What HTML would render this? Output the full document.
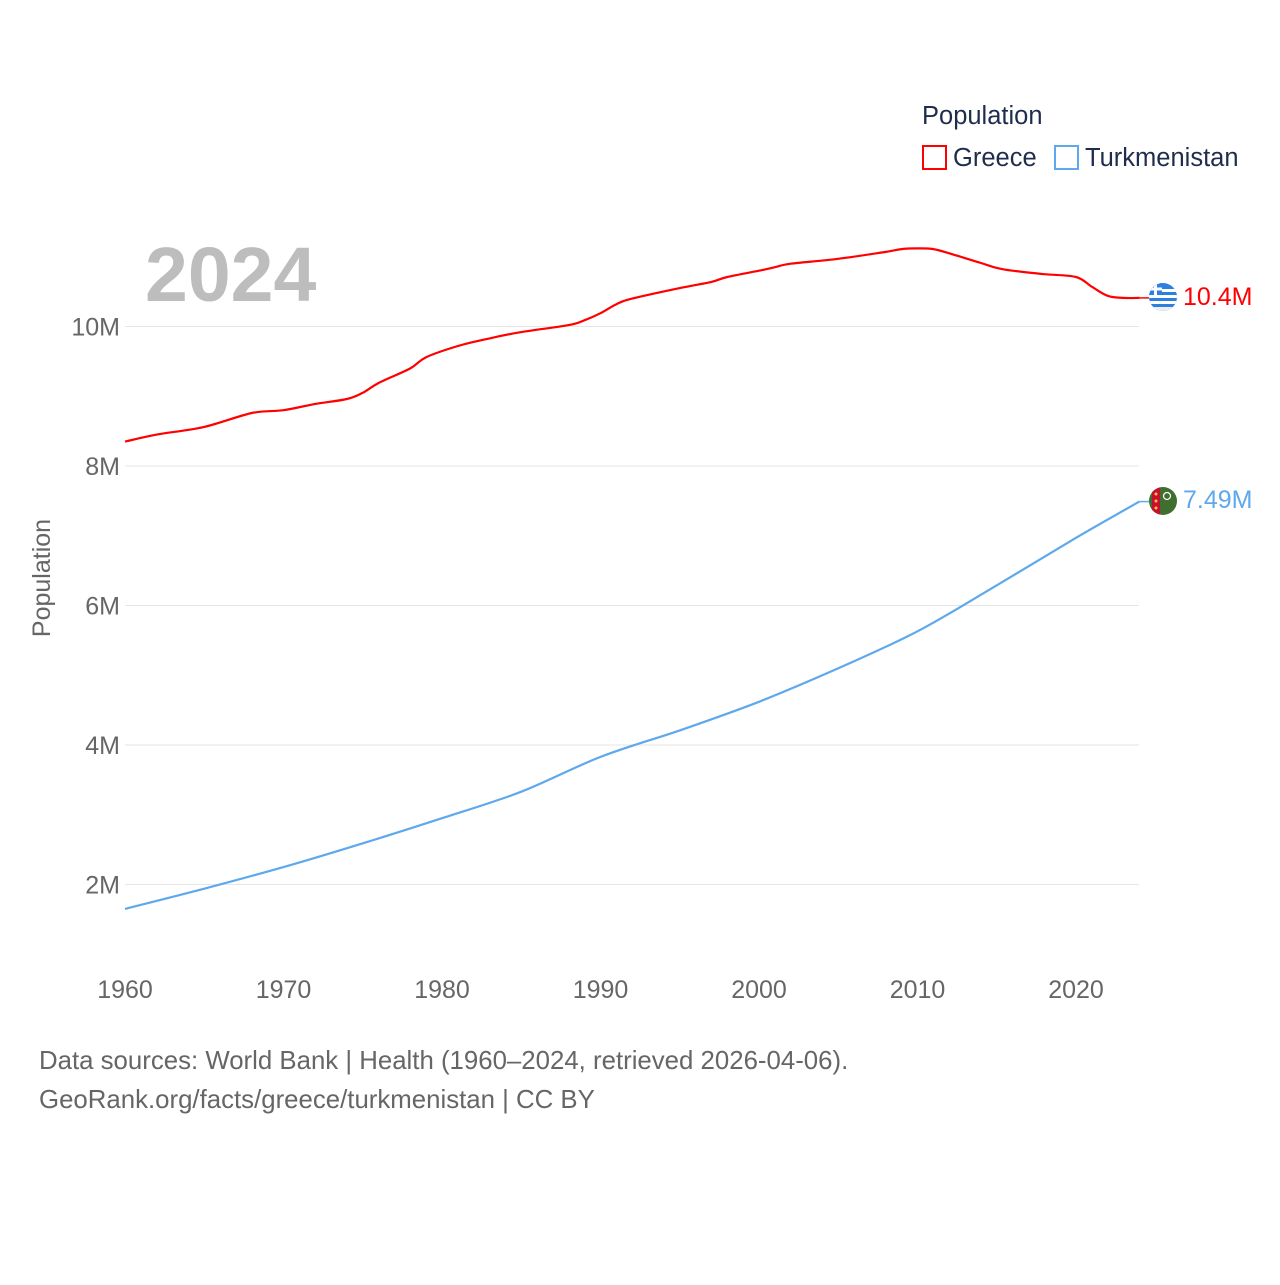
<!DOCTYPE html>
<html><head><meta charset="utf-8"><style>
body{margin:0;background:#fff;font-family:"Liberation Sans",sans-serif}
svg text{font-family:"Liberation Sans",sans-serif}
</style></head><body>
<svg id="chart" width="1280" height="1280" viewBox="0 0 1280 1280" xmlns="http://www.w3.org/2000/svg">
<rect width="1280" height="1280" fill="#fff"/>
<g id="grid"></g>
<g id="yticks"></g>
<g id="xticks"></g>
<text x="145" y="301" font-size="77" font-weight="bold" fill="#bdbdbd">2024</text>
<text transform="translate(50,578) rotate(-90)" text-anchor="middle" font-size="25" fill="#666">Population</text>
<g id="series"></g>
<g>
<text x="922" y="124" font-size="25.5" fill="#1f2d4d">Population</text>
<g><rect x="923" y="146" width="23" height="23" fill="none" stroke="#ff0000" stroke-width="2"/><text x="953" y="166" font-size="25.5" fill="#1f2d4d">Greece</text></g>
<g><rect x="1055" y="146" width="23" height="23" fill="none" stroke="#5ea8ec" stroke-width="2"/><text x="1085" y="166" font-size="25.5" fill="#1f2d4d">Turkmenistan</text></g>
</g>
<defs>
<clipPath id="c1"><circle cx="1163" cy="297" r="14"/></clipPath>
<clipPath id="c2"><circle cx="1163" cy="501" r="14"/></clipPath>
</defs>
<g clip-path="url(#c1)">
<rect x="1149" y="283" width="28" height="28" fill="#2d7fe0"/>
<rect x="1149" y="289" width="28" height="3" fill="#fff"/><rect x="1149" y="295" width="28" height="3" fill="#fff"/><rect x="1149" y="301" width="28" height="3" fill="#fff"/><rect x="1149" y="307" width="28" height="4" fill="#eee"/>
<rect x="1149" y="283" width="13" height="12" fill="#2d7fe0"/><rect x="1149" y="287.5" width="13" height="3" fill="#fff"/><rect x="1154" y="283" width="3" height="12" fill="#fff"/>
</g>
<g clip-path="url(#c2)">
<rect x="1149" y="487" width="28" height="28" fill="#3f6e2e"/>
<rect x="1152" y="487" width="8" height="28" fill="#c8102e"/>
<circle cx="1156" cy="494" r="1.5" fill="#f2c14e"/><circle cx="1156" cy="501" r="1.5" fill="#f2c14e"/><circle cx="1156" cy="508" r="1.5" fill="#f2c14e"/>
<circle cx="1167" cy="496" r="3.5" fill="none" stroke="#fff" stroke-width="1.2"/>
</g>
<text x="1183" y="305" font-size="25" fill="#ff0000">10.4M</text>
<text x="1183" y="508" font-size="25" fill="#5ea8ec">7.49M</text>
<text x="39" y="1069" font-size="25.8" fill="#666">Data sources: World Bank | Health (1960–2024, retrieved 2026-04-06).</text>
<text x="39" y="1108" font-size="25.8" fill="#666">GeoRank.org/facts/greece/turkmenistan | CC BY</text>
</svg>
<script>
const yTicks=[2,4,6,8,10];
const yTickLabels=["2M","4M","6M","8M","10M"];
const xTicks=[1960,1970,1980,1990,2000,2010,2020];
const greeceYears=[1960,1962,1965,1968,1970,1972,1974,1975,1976,1978,1979,1981,1983,1985,1988,1989,1990,1991,1992,1995,1997,1998,2000,2001,2002,2005,2008,2009,2010,2011,2012,2014,2015,2016,2018,2020,2021,2022,2023,2024];
const greeceValues=[8.35,8.45,8.56,8.76,8.80,8.89,8.96,9.05,9.19,9.40,9.56,9.72,9.83,9.92,10.02,10.09,10.19,10.32,10.40,10.55,10.64,10.71,10.80,10.85,10.90,10.97,11.07,11.11,11.12,11.11,11.05,10.91,10.84,10.80,10.75,10.71,10.57,10.44,10.41,10.41];
const turkYears=[1960,1965,1970,1975,1980,1985,1990,1995,2000,2005,2010,2015,2020,2024];
const turkValues=[1.65,1.94,2.25,2.59,2.95,3.33,3.83,4.21,4.62,5.10,5.63,6.29,6.97,7.49];
const NS="http://www.w3.org/2000/svg";
const x=yr=>125+(yr-1960)*(1076-125)/60;
const y=v=>1024-v*69.75;
function mk(tag,attrs,parent){const e=document.createElementNS(NS,tag);for(const k in attrs)e.setAttribute(k,attrs[k]);parent.appendChild(e);return e;}
const grid=document.getElementById('grid'),yt=document.getElementById('yticks'),xt=document.getElementById('xticks'),ser=document.getElementById('series');
yTicks.forEach((v,i)=>{
 const l=mk('line',{x1:125,x2:1139,y1:y(v),y2:y(v),stroke:'#e6e6e6','stroke-width':1},grid);
 
 
 const t=mk('text',{x:120,y:y(v)+9,'text-anchor':'end','font-size':25,fill:'#666'},yt);
 
 
 t.textContent=yTickLabels[i];
});
xTicks.forEach(yr=>{
 const t=mk('text',{x:x(yr),y:998,'text-anchor':'middle','font-size':25,fill:'#666'},xt);
 
 
 t.textContent=yr;
});
function line(years,vals,color,name){
 const pts=years.map((yr,i)=>[x(yr),y(vals[i])]);
 let d='M'+pts[0][0].toFixed(1)+','+pts[0][1].toFixed(1);
 for(let i=0;i<pts.length-1;i++){
  const p0=pts[Math.max(0,i-1)],p1=pts[i],p2=pts[i+1],p3=pts[Math.min(pts.length-1,i+2)];
  const c1=[p1[0]+(p2[0]-p0[0])/6,p1[1]+(p2[1]-p0[1])/6],c2=[p2[0]-(p3[0]-p1[0])/6,p2[1]-(p3[1]-p1[1])/6];
  d+=' C'+c1.map(n=>n.toFixed(1)).join(',')+' '+c2.map(n=>n.toFixed(1)).join(',')+' '+p2.map(n=>n.toFixed(1)).join(',');
 }
 const p=mk('path',{d:d,fill:'none',stroke:color,'stroke-width':2.2,'stroke-linejoin':'round'},ser);
 
 
 const last=vals[vals.length-1];
 const c=mk('line',{x1:x(years[years.length-1]),x2:1149,y1:y(last),y2:y(last),stroke:color,'stroke-width':1.5},ser);
 
 
}
line(greeceYears,greeceValues,'#ff0000','greece-line');
line(turkYears,turkValues,'#5ea8ec','turkmenistan-line');
</script>
</body></html>
